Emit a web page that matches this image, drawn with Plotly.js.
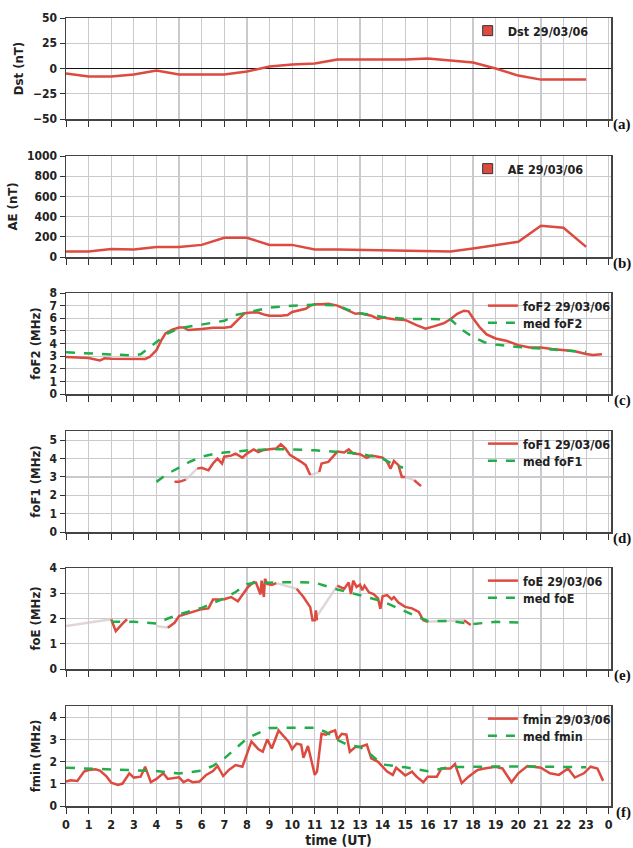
<!DOCTYPE html>
<html><head><meta charset="utf-8">
<script src="https://cdn.plot.ly/plotly-3.0.1.min.js"></script>
<style>html,body{margin:0;padding:0;background:#fff}</style>
</head><body><div id="chart" style="width:633px;height:848px"></div>
<script>
// ---------- DATA ----------
const hours = [0,1,2,3,4,5,6,7,8,9,10,11,12,13,14,15,16,17,18,19,20,21,22,23];
const dst = [-5,-8,-8,-6,-2,-6,-6,-6,-3,2,4,5,9,9,9,9,10,8,6,0,-7,-11,-11,-11];
const ae = [55,55,80,75,100,100,120,190,190,120,120,75,75,70,70,60,55,55,85,120,150,310,290,100];

const foF2T = [0,0.5,1,1.5,1.7,2,2.5,3,3.3,3.5,3.7,4,4.2,4.4,4.7,5,5.2,5.4,6,6.5,7,7.3,7.6,7.9,8.2,8.5,8.8,9,9.5,9.8,10,10.3,10.6,10.8,11,11.3,11.6,12,12.5,12.8,13,13.5,13.8,14,14.5,15,15.5,15.9,16.3,16.7,17,17.3,17.6,17.8,18,18.3,18.6,19,19.5,20,20.5,21,21.5,22,22.5,23,23.3,23.7];
const foF2 = [2.93,2.88,2.85,2.65,2.83,2.8,2.8,2.78,2.75,2.78,2.93,3.47,4.2,4.8,5.1,5.27,5.27,5.07,5.15,5.25,5.25,5.33,5.87,6.4,6.45,6.45,6.27,6.2,6.2,6.25,6.5,6.6,6.75,7.0,7.1,7.1,7.15,7.0,6.6,6.35,6.4,6.2,5.95,6.05,5.92,5.87,5.45,5.17,5.38,5.6,5.92,6.35,6.6,6.55,6.0,5.27,4.72,4.4,4.2,3.87,3.68,3.68,3.57,3.47,3.39,3.17,3.09,3.15];
const medF2T = [0,1,2,3,3.3,4,4.5,5,6,7,7.5,8,8.5,9,10,11,12,12.5,13,14,15,16,17,17.5,18,18.5,19,20,21,22,23];
const medF2 = [3.3,3.23,3.12,3.05,3.15,4.08,4.8,5.2,5.5,5.8,6.25,6.45,6.65,6.85,7.0,7.07,7.03,6.65,6.4,6.1,5.95,5.92,5.92,5.1,4.5,4.1,3.92,3.72,3.6,3.47,3.33];

const foF1T = [4.8,5,5.3,5.55,5.8,6,6.3,6.5,6.7,6.9,7,7.3,7.5,7.8,8,8.3,8.5,8.7,9,9.3,9.5,9.7,9.9,10.2,10.4,10.6,10.8,11.0,11.2,11.3,11.6,11.9,12,12.3,12.5,12.7,13,13.3,13.5,13.8,14,14.2,14.35,14.5,14.7,14.85,15,15.2,15.4,15.7];
const foF1 = [2.73,2.73,2.85,null,3.45,3.5,3.36,3.73,4.0,3.73,4.1,4.16,4.27,4.05,4.27,4.5,4.35,4.45,4.5,4.55,4.78,4.55,4.2,4.0,3.82,3.64,3.1,null,3.27,3.73,3.82,4.2,4.38,4.33,4.5,4.27,4.24,4.04,4.16,4.1,4.05,3.82,3.45,3.87,3.64,3.0,3.0,null,2.82,2.5];
const foF1GapT = [5.3,5.8,5.8,10.8,11.2,11.2,15,15.4];
const foF1Gap = [2.85,3.45,null,3.1,3.27,null,3.0,2.82];
const medF1T = [4,4.5,5,5.5,6,6.5,7,8,9,10,11,12,13,14,14.5,14.9];
const medF1 = [2.73,3.18,3.5,3.84,4.1,4.24,4.33,4.44,4.5,4.5,4.45,4.38,4.27,4.0,3.67,3.5];

const foET = [2,2.2,2.5,2.7,2.8,4.5,4.8,5,5.5,6,6.3,6.5,7,7.3,7.6,7.9,8.05,8.3,8.4,8.6,8.65,8.75,8.8,8.9,9.1,9.3,9.5,10.2,10.5,10.8,10.9,11,11.05,11.1,11.2,12,12.3,12.5,12.6,12.7,12.85,13,13.1,13.2,13.4,13.6,13.8,13.9,14,14.2,14.4,14.5,14.7,15,15.3,15.6,15.8,16,16.5,17.6,17.9];
const foE = [1.97,1.5,1.8,1.97,null,1.63,1.83,2.1,2.24,2.37,2.4,2.75,2.76,2.85,2.68,3.03,3.25,3.44,3.42,2.95,3.5,2.85,3.57,3.37,3.33,3.4,null,3.18,2.85,2.45,1.93,1.93,2.32,1.93,null,3.3,3.17,3.43,2.97,3.5,3.25,3.34,3.12,3.3,3.03,2.97,2.8,2.38,2.88,2.93,2.76,2.85,2.63,2.46,2.4,2.26,1.93,1.87,null,1.93,1.74];
const foEGapT = [0,2,2,4.0,4.5,4.5,9.3,10.2,10.2,11.1,12,12,16,17.6];
const foEGap = [1.7,1.97,null,1.7,1.63,null,3.4,3.18,null,2.1,3.3,null,1.87,1.93];
const medET = [2,3,4,4.5,5,6,7,7.5,8,8.5,9,10,11,12,13,14,15,16,17,18,19,20];
const medE = [1.87,1.87,1.8,2.0,2.16,2.42,2.8,3.05,3.36,3.44,3.42,3.44,3.42,3.15,2.92,2.68,2.28,1.9,1.9,1.78,1.87,1.84];

const fminT = [0,0.2,0.5,0.8,1.0,1.3,1.5,1.8,2.0,2.3,2.5,2.8,3.0,3.3,3.5,3.75,4.0,4.3,4.5,5.0,5.2,5.4,5.6,5.9,6.2,6.5,6.7,6.95,7.2,7.5,7.8,8.0,8.2,8.5,8.7,8.9,9.1,9.4,9.6,9.85,10.0,10.2,10.4,10.5,10.7,10.9,11.0,11.1,11.3,11.5,11.7,11.9,12.0,12.2,12.4,12.55,12.8,13.0,13.3,13.5,13.8,14.0,14.2,14.45,14.6,14.8,15.0,15.3,15.5,15.8,16.0,16.4,16.6,17.0,17.2,17.5,17.8,18.2,18.5,19.0,19.3,19.7,20.0,20.4,21.0,21.4,21.8,22.2,22.5,22.9,23.2,23.5,23.75];
const fmin = [1.1,1.16,1.13,1.55,1.62,1.65,1.59,1.32,1.05,0.95,1.01,1.47,1.28,1.32,1.77,1.07,1.22,1.47,1.22,1.29,1.07,1.17,1.07,1.1,1.4,1.57,1.8,1.35,1.62,1.84,1.77,2.32,2.91,2.56,2.44,3.0,2.59,3.4,3.18,2.88,2.56,2.81,2.76,2.17,2.7,1.77,1.4,1.55,3.25,3.21,3.33,3.4,3.0,3.25,3.21,2.44,2.66,2.66,2.76,2.14,1.99,1.77,1.55,1.4,1.72,1.55,1.37,1.55,1.32,1.07,1.32,1.32,1.69,1.69,1.89,1.03,1.32,1.62,1.69,1.77,1.69,1.07,1.47,1.8,1.72,1.47,1.4,1.69,1.28,1.47,1.77,1.69,1.13];
const medFminT = [0,1,2,3,4,5,6,6.5,7,7.5,8,8.5,9,10,11,11.5,12,12.5,13,13.5,14,15,16,17,18,19,20,21,22,23];
const medFmin = [1.72,1.69,1.65,1.6,1.57,1.46,1.59,1.81,2.14,2.59,3.03,3.28,3.51,3.52,3.52,3.33,2.98,2.73,2.66,2.29,1.87,1.74,1.57,1.75,1.78,1.78,1.78,1.78,1.76,1.74];

const xTickVals = [0,1,2,3,4,5,6,7,8,9,10,11,12,13,14,15,16,17,18,19,20,21,22,23,24];
const xTickText = ["0","1","2","3","4","5","6","7","8","9","10","11","12","13","14","15","16","17","18","19","20","21","22","23","0"];
const panelLabels = ["(a)","(b)","(c)","(d)","(e)","(f)"];
const yTitles = ["Dst (nT)","AE (nT)","foF2 (MHz)","foF1 (MHz)","foE (MHz)","fmin (MHz)"];
const legendNames = [["Dst 29/03/06"],["AE 29/03/06"],["foF2 29/03/06","med foF2"],["foF1 29/03/06","med foF1"],["foE 29/03/06","med foE"],["fmin 29/03/06","med fmin"]];

// ---------- STYLE ----------
const H = 848;
const FONT = "DejaVu Sans Condensed, Liberation Sans Narrow, Arial Narrow, sans-serif";
const RED = "#dd4a3f", GREEN = "#22ad4a", FADE = "rgba(215,200,200,0.75)";
const panelPx = [[18,119],[156,257],[293,394],[431,532],[568,669],[706,806]];
const yRanges = [[-50,50],[0,1000],[0,8],[0,5.5],[0,4],[0,4.5]];
const yDticks = [25,200,1,1,1,1];

const traces = [];
const layout = {
  width:633, height:H,
  margin:{l:66, r:22, t:0, b:0},
  paper_bgcolor:"#fff", plot_bgcolor:"#fff",
  font:{family:FONT, size:12, color:"#222", weight:"bold"},
  annotations:[]
};
function ax(i){ return i===0 ? "" : String(i+1); }
let legendCount = 0;
function newLegend(centerPx, xPaper){
  legendCount++;
  const id = legendCount===1 ? "legend" : "legend"+legendCount;
  layout[id] = {
    x:xPaper, xanchor:"left", y:1-centerPx/H, yanchor:"middle", yref:"paper",
    bgcolor:"rgba(0,0,0,0)", borderwidth:0, itemwidth:30,
    font:{family:FONT,size:12.5,weight:"bold",color:"#222"}
  };
  return id;
}

// Panel a, b : single series with square-marker legend
[dst, ae].forEach((arr,i)=>{
  traces.push({x:hours, y:arr, mode:"lines", line:{color:RED,width:2.5}, showlegend:false,
    xaxis:"x"+ax(i), yaxis:"y"+ax(i), hoverinfo:"skip"});
  traces.push({x:[null], y:[null], mode:"markers", name:legendNames[i][0],
    marker:{symbol:"square", size:10, color:RED, line:{color:"#333",width:1}},
    xaxis:"x"+ax(i), yaxis:"y"+ax(i), legend:newLegend(panelPx[i][0]+13, 0.737)});
});

const sets = [
  [foF2T, foF2, null, null, medF2T, medF2],
  [foF1T, foF1, foF1GapT, foF1Gap, medF1T, medF1],
  [foET, foE, foEGapT, foEGap, medET, medE],
  [fminT, fmin, null, null, medFminT, medFmin]
];
sets.forEach((s,k)=>{
  const i = k+2;
  const top = panelPx[i][0];
  if (s[2]) traces.push({x:s[2], y:s[3], mode:"lines", line:{color:FADE,width:2.5}, showlegend:false,
    connectgaps:false, xaxis:"x"+ax(i), yaxis:"y"+ax(i), hoverinfo:"skip"});
  traces.push({x:s[0], y:s[1], mode:"lines", name:legendNames[i][0], line:{color:RED,width:2.5},
    connectgaps:false, xaxis:"x"+ax(i), yaxis:"y"+ax(i), legend:newLegend(top+13, 0.765)});
  traces.push({x:s[4], y:s[5], mode:"lines", name:legendNames[i][1], line:{color:GREEN,width:2.5,dash:"dash"},
    xaxis:"x"+ax(i), yaxis:"y"+ax(i), legend:newLegend(top+30, 0.765)});
});

for (let i=0;i<6;i++){
  const [top,bot] = panelPx[i];
  const dom = [1-bot/H, 1-top/H];
  const xa = {
    domain:[0,1], range:[0,24.1], anchor:"y"+ax(i),
    tickvals:xTickVals, ticktext:xTickText, ticks:"outside", ticklen:6, tickcolor:"#333", tickwidth:1,
    showticklabels: i===5, tickfont:{family:FONT,size:12.5,weight:"bold",color:"#222"},
    showgrid:true, gridcolor:"#c9c9ce", gridwidth:1.2,
    showline:true, linecolor:"#444", linewidth:1.5, mirror:true, zeroline:false, fixedrange:true
  };
  if (i<5) xa.matches = "x6";
  if (i===5) xa.title = {text:"time (UT)", font:{family:FONT,size:14,weight:"bold",color:"#222"}, standoff:8};
  layout["xaxis"+ax(i)] = xa;
  layout["yaxis"+ax(i)] = {
    domain:dom, range:yRanges[i], dtick:yDticks[i], tick0:0, anchor:"x"+ax(i),
    ticks:"outside", ticklen:5, tickcolor:"#333", tickfont:{family:FONT,size:12,weight:"bold",color:"#222"},
    showgrid:true, gridcolor:"#c9c9ce", gridwidth:1.2,
    showline:true, linecolor:"#444", linewidth:1.5, mirror:true,
    zeroline: i===0, zerolinecolor:"#111", zerolinewidth:1.5,
    title:{text:yTitles[i], font:{family:FONT,size:13,weight:"bold",color:"#222"}, standoff:6},
    fixedrange:true
  };
  layout.annotations.push({
    text:panelLabels[i], xref:"paper", yref:"paper", x:1+22/545, xanchor:"right",
    y:1-(bot+6)/H, yanchor:"middle", showarrow:false,
    font:{family:"Liberation Serif, DejaVu Serif, serif", size:15, weight:"bold", color:"#111"}
  });
}

Plotly.newPlot("chart", traces, layout, {staticPlot:true, displayModeBar:false});
</script>
</body></html>
